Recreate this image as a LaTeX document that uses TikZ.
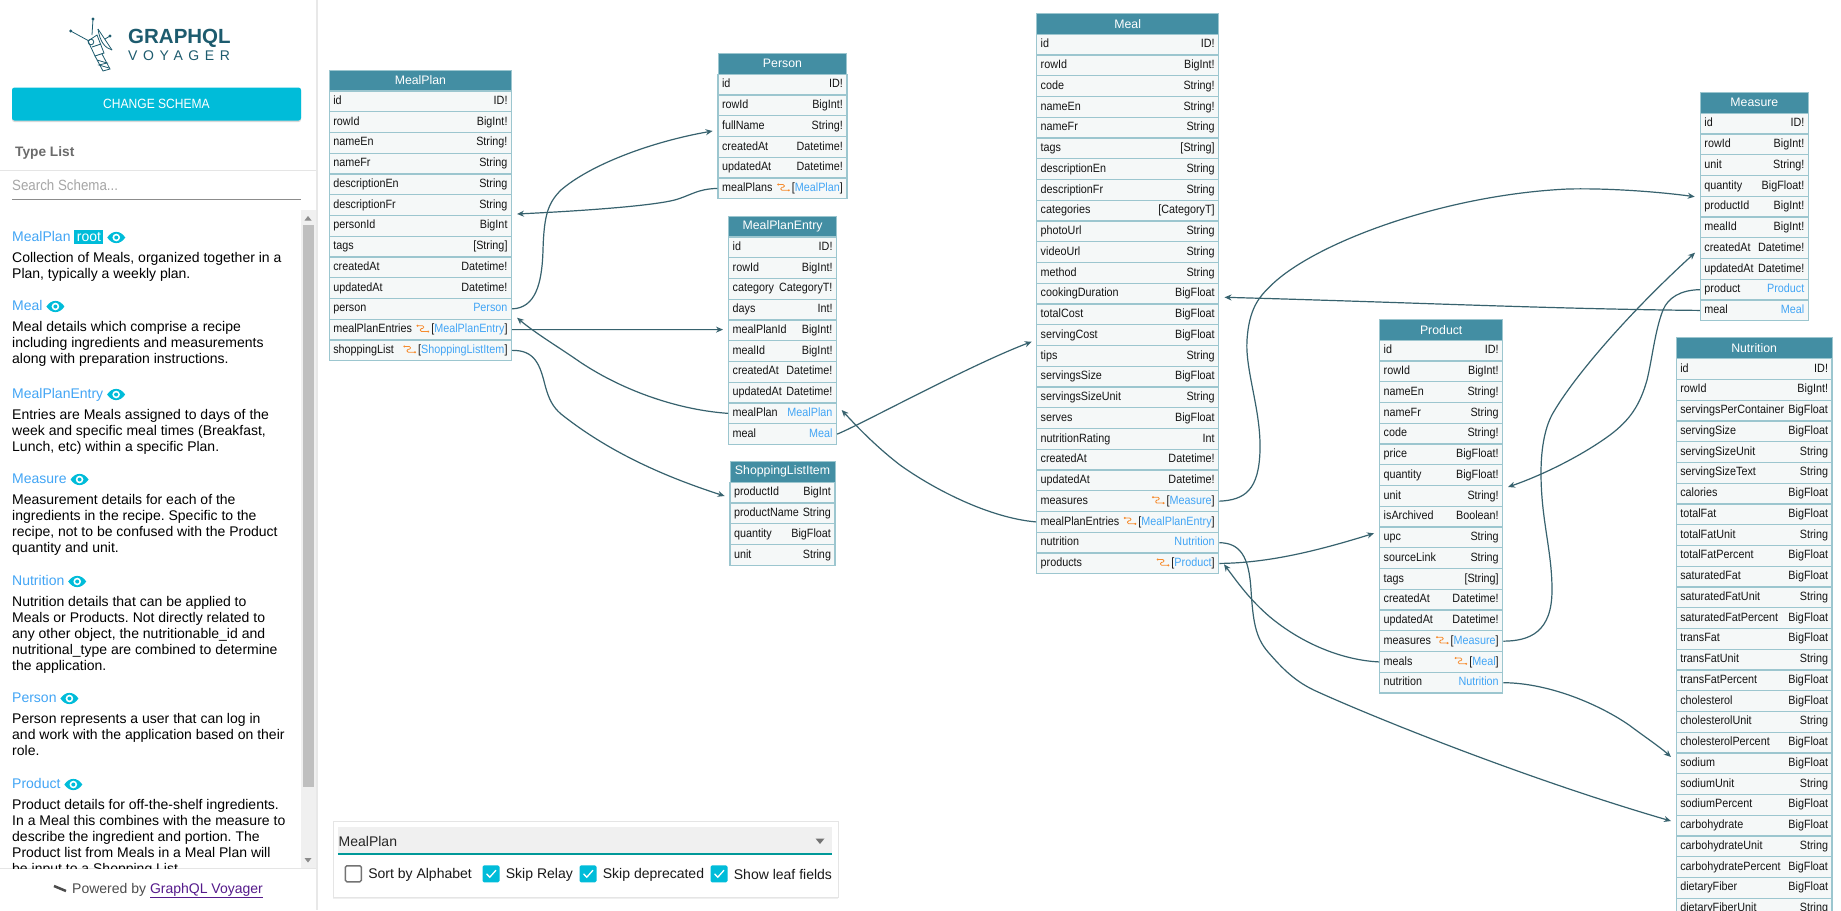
\documentclass[tikz,border=0pt]{standalone}
\usepackage{fontspec}
\setmainfont{Liberation Sans}
\newfontfamily\fieldfont[FakeStretch=0.9]{Liberation Sans}
\newfontfamily\spacedfont[LetterSpace=40]{Liberation Sans}
\usepackage{xcolor}
\usetikzlibrary{arrows.meta, positioning, shadows}

\definecolor{titlecol}{HTML}{438EA3}
\definecolor{rowcol}{HTML}{F5F8F8}
\definecolor{rowedge}{HTML}{9CC6CF}
\definecolor{edgecol}{HTML}{37626E}
\definecolor{linkblue}{HTML}{42A5F5}
\definecolor{relayorange}{HTML}{F58B2E}
\definecolor{btncyan}{HTML}{00BCD9}
\definecolor{logoteal}{HTML}{1D5B6E}
\setlength{\fboxsep}{2.4pt}
\frenchspacing

\newcommand{\lnk}[1]{\textcolor{linkblue}{#1}}
\newcommand{\relayicon}{\tikz[baseline=0pt, x=1pt, y=1pt]{
    \draw[relayorange, line width=0.8pt, rounded corners=1.2pt] (1,7) -- (7,7) -- (7,4.2) -- (3.5,4.2) -- (3.5,1.2) -- (11,1.2);
    \fill[relayorange] (0.8,7) circle (1.1pt) (11.4,1.2) circle (1.1pt);
}\,}
\newcommand{\eyeicon}{\tikz[baseline=-4pt, x=1pt, y=1pt]{
    \fill[btncyan] (-9,0) .. controls (-4,7.5) and (4,7.5) .. (9,0) .. controls (4,-7.5) and (-4,-7.5) .. (-9,0) -- cycle;
    \fill[white] (0,0) circle (3.8pt);
    \fill[btncyan] (0,0) circle (2pt);
}}

\tikzset{
    typetitle/.style={draw=rowedge, fill=titlecol, text=white, line width=1pt, minimum height=21pt, inner xsep=0pt, inner ysep=0pt,
        font=\fontsize{12.3}{14}\selectfont},
    fieldrow/.style={draw=rowedge, fill=rowcol, text=black!92, line width=1.2pt, text width=#1-8pt, inner xsep=4pt, inner ysep=0pt,
        minimum height=20.75pt, text height=8.6pt, text depth=2.4pt, font=\fieldfont\fontsize{12}{14}\selectfont},
    edgeline/.style={draw=edgecol, line width=1.2pt, -{Stealth[length=7pt, width=6pt]}},
    sidetitle/.style={anchor=west, inner sep=0pt, text=linkblue, font=\fontsize{14}{16}\selectfont},
    sidedesc/.style={anchor=north west, inner sep=0pt, align=left, text=black, font=\fontsize{14}{16}\selectfont},
    chkbox/.style={minimum size=17pt, inner sep=0pt, rounded corners=1.5pt},
    chklabel/.style={inner sep=0pt, text=black!90, font=\fontsize{14}{16}\selectfont},
    chkmark/.style={draw=white, line width=1.3pt}
}

\begin{document}
\begin{tikzpicture}[x=1pt, y=-1pt]
    \clip (0,0) rectangle (1841,910);
    \fill[white] (0,0) rectangle (1841,910);

    % Sidebar frame
    \fill[black!9] (316,0) rectangle (318,910);
    \draw[black!10, line width=1pt] (0,170.3) -- (316,170.3);
    \draw[black!10, line width=1pt] (0,868) -- (316,868);

    % Logo
    \begin{scope}[logoteal, line width=0.8pt]
        \draw (70.7,31) -- (89,41);
        \draw (93,19) -- (92,35);
        \fill (70.7,31) circle (1.6pt) (93,19) circle (1.6pt) (110,36) circle (1.6pt);
        \draw (88,41) -- (97,35) -- (104,53) -- (95,56) -- cycle;
        \draw (91,42) circle (2.8pt);
        \draw (92,47) -- (101,44);
        \draw (95,56) -- (103,71) -- (110,69) -- (102,54);
        \draw (97,60) -- (107,63) -- (99,65) -- (109,68);
        \draw (98,29) .. controls (100,42) and (105,48) .. (112,50);
        \draw (98,29) -- (112,50) (105,39) -- (110,36);
    \end{scope}
    \node[anchor=west, inner sep=0pt, text=logoteal, font=\bfseries\fontsize{20.5}{22}\selectfont] (logotop) at (128,38) {GRAPHQL};
    \node[anchor=west, inner sep=0pt, text=logoteal, font=\spacedfont\fontsize{14}{16}\selectfont] (logobot) at (128,56) {VOYAGER};

    % Button and search
    \node[fill=btncyan, rounded corners=2.5pt, minimum width=289pt, minimum height=33pt, inner sep=0pt, text=white,
        font=\fieldfont\fontsize{13.4}{16}\selectfont, drop shadow={shadow xshift=0pt, shadow yshift=-1.5pt, opacity=0.3}] (change) at (156.5,104) {CHANGE SCHEMA};
    \node[anchor=west, inner sep=0pt, text=black!58, font=\bfseries\fontsize{13.7}{16}\selectfont] (typelist) at (15,153) {Type List};
    \node[anchor=west, inner sep=0pt, text=black!35, font=\fieldfont\fontsize{14.8}{16}\selectfont] (search) at (12,185) {Search Schema...};
    \draw[black!45, line width=1pt] (12,199.3) -- (301,199.3);

    % Scrollbar
    \fill[black!6] (301,210) rectangle (316,868);
    \fill[black!25] (303,225) rectangle (314,787);
    \fill[black!45] (304.5,220.5) -- (311.5,220.5) -- (308,216) -- cycle;
    \fill[black!45] (304.5,858) -- (311.5,858) -- (308,862.5) -- cycle;

    % Type list
    \begin{scope}
        \clip (0,205) rectangle (301,868);
        \node[sidetitle] (item1) at (12,237.5) {MealPlan\ \colorbox{btncyan}{\textcolor{white}{root}}\ \eyeicon};
        \node[sidedesc] (desc1) at (12,252.5) {Collection of Meals, organized together in a\\Plan, typically a weekly plan.};
        \node[sidetitle] (item2) at (12,306.5) {Meal\ \eyeicon};
        \node[sidedesc] (desc2) at (12,321.5) {Meal details which comprise a recipe\\including ingredients and measurements\\along with preparation instructions.};
        \node[sidetitle] (item3) at (12,394.5) {MealPlanEntry\ \eyeicon};
        \node[sidedesc] (desc3) at (12,409.5) {Entries are Meals assigned to days of the\\week and specific meal times (Breakfast,\\Lunch, etc) within a specific Plan.};
        \node[sidetitle] (item4) at (12,479.5) {Measure\ \eyeicon};
        \node[sidedesc] (desc4) at (12,494.5) {Measurement details for each of the\\ingredients in the recipe. Specific to the\\recipe, not to be confused with the Product\\quantity and unit.};
        \node[sidetitle] (item5) at (12,581.5) {Nutrition\ \eyeicon};
        \node[sidedesc] (desc5) at (12,596.5) {Nutrition details that can be applied to\\Meals or Products. Not directly related to\\any other object, the nutritionable\_id and\\nutritional\_type are combined to determine\\the application.};
        \node[sidetitle] (item6) at (12,698.5) {Person\ \eyeicon};
        \node[sidedesc] (desc6) at (12,713.5) {Person represents a user that can log in\\and work with the application based on their\\role.};
        \node[sidetitle] (item7) at (12,784.5) {Product\ \eyeicon};
        \node[sidedesc] (desc7) at (12,799.5) {Product details for off-the-shelf ingredients.\\In a Meal this combines with the measure to\\describe the ingredient and portion. The\\Product list from Meals in a Meal Plan will\\be input to a Shopping List.};
    \end{scope}

    % Footer
    \draw[black!70, line width=2.5pt] (54,886) -- (66,891);
    \node[anchor=west, inner sep=0pt, text=black!70, font=\fontsize{14}{16}\selectfont] (powered) at (72,890.5) {Powered by \textcolor[HTML]{551A8B}{\underline{GraphQL Voyager}}};

    % MealPlan
    \node[typetitle, minimum width=182.2pt] (mealplan) at (420.4,80.5) {MealPlan};
    \foreach \i/\fname/\ftype in {1/id/ID!, 2/rowId/BigInt!, 3/nameEn/String!, 4/nameFr/String, 5/descriptionEn/String, 6/descriptionFr/String, 7/personId/BigInt,
        8/tags/[String], 9/createdAt/Datetime!, 10/updatedAt/Datetime!, 11/person/\lnk{Person},
        12/mealPlanEntries/{\relayicon[\lnk{MealPlanEntry}]}, 13/shoppingList/{\relayicon[\lnk{ShoppingListItem}]}} {
        \node[fieldrow=182.2pt] (mp\i) at (420.4,91+20.75*\i-10.375) {\fname\hfill\ftype};
    }

    % Person
    \node[typetitle, minimum width=128.9pt] (person) at (782.45,63.8) {Person};
    \foreach \i/\fname/\ftype in {1/id/ID!, 2/rowId/BigInt!, 3/fullName/String!, 4/createdAt/Datetime!, 5/updatedAt/Datetime!,
        6/mealPlans/{\relayicon[\lnk{MealPlan}]}} {
        \node[fieldrow=128.9pt] (per\i) at (782.45,74.3+20.75*\i-10.375) {\fname\hfill\ftype};
    }

    % MealPlanEntry
    \node[typetitle, minimum width=107.8pt] (entry) at (782.6,226.5) {MealPlanEntry};
    \foreach \i/\fname/\ftype in {1/id/ID!, 2/rowId/BigInt!, 3/category/CategoryT!, 4/days/Int!, 5/mealPlanId/BigInt!, 6/mealId/BigInt!,
        7/createdAt/Datetime!, 8/updatedAt/Datetime!, 9/mealPlan/\lnk{MealPlan}, 10/meal/\lnk{Meal}} {
        \node[fieldrow=107.8pt] (ent\i) at (782.6,237+20.75*\i-10.375) {\fname\hfill\ftype};
    }

    % ShoppingListItem
    \node[typetitle, minimum width=105pt] (shoplist) at (782.5,471.8) {ShoppingListItem};
    \foreach \i/\fname/\ftype in {1/productId/BigInt, 2/productName/String, 3/quantity/BigFloat, 4/unit/String} {
        \node[fieldrow=105pt] (sli\i) at (782.5,482.3+20.75*\i-10.375) {\fname\hfill\ftype};
    }

    % Meal
    \node[typetitle, minimum width=182pt] (meal) at (1127.7,23.8) {Meal};
    \foreach \i/\fname/\ftype in {1/id/ID!, 2/rowId/BigInt!, 3/code/String!, 4/nameEn/String!, 5/nameFr/String, 6/tags/[String], 7/descriptionEn/String,
        8/descriptionFr/String, 9/categories/[CategoryT], 10/photoUrl/String, 11/videoUrl/String, 12/method/String, 13/cookingDuration/BigFloat,
        14/totalCost/BigFloat, 15/servingCost/BigFloat, 16/tips/String, 17/servingsSize/BigFloat, 18/servingsSizeUnit/String, 19/serves/BigFloat,
        20/nutritionRating/Int, 21/createdAt/Datetime!, 22/updatedAt/Datetime!, 23/measures/{\relayicon[\lnk{Measure}]},
        24/mealPlanEntries/{\relayicon[\lnk{MealPlanEntry}]}, 25/nutrition/\lnk{Nutrition}, 26/products/{\relayicon[\lnk{Product}]}} {
        \node[fieldrow=182pt] (ml\i) at (1127.7,34.3+20.75*\i-10.375) {\fname\hfill\ftype};
    }

    % Product
    \node[typetitle, minimum width=123pt] (product) at (1441.2,329.8) {Product};
    \foreach \i/\fname/\ftype in {1/id/ID!, 2/rowId/BigInt!, 3/nameEn/String!, 4/nameFr/String, 5/code/String!, 6/price/BigFloat!, 7/quantity/BigFloat!,
        8/unit/String!, 9/isArchived/Boolean!, 10/upc/String, 11/sourceLink/String, 12/tags/[String], 13/createdAt/Datetime!, 14/updatedAt/Datetime!,
        15/measures/{\relayicon[\lnk{Measure}]}, 16/meals/{\relayicon[\lnk{Meal}]}, 17/nutrition/\lnk{Nutrition}} {
        \node[fieldrow=123pt] (pr\i) at (1441.2,340.3+20.75*\i-10.375) {\fname\hfill\ftype};
    }

    % Measure
    \node[typetitle, minimum width=107.9pt] (measure) at (1754.35,102.8) {Measure};
    \foreach \i/\fname/\ftype in {1/id/ID!, 2/rowId/BigInt!, 3/unit/String!, 4/quantity/BigFloat!, 5/productId/BigInt!, 6/mealId/BigInt!,
        7/createdAt/Datetime!, 8/updatedAt/Datetime!, 9/product/\lnk{Product}, 10/meal/\lnk{Meal}} {
        \node[fieldrow=107.9pt] (ms\i) at (1754.35,113.3+20.75*\i-10.375) {\fname\hfill\ftype};
    }

    % Nutrition
    \node[typetitle, minimum width=155.7pt] (nutrition) at (1754.15,348.2) {Nutrition};
    \foreach \i/\fname/\ftype in {1/id/ID!, 2/rowId/BigInt!, 3/servingsPerContainer/BigFloat, 4/servingSize/BigFloat, 5/servingSizeUnit/String,
        6/servingSizeText/String, 7/calories/BigFloat, 8/totalFat/BigFloat, 9/totalFatUnit/String, 10/totalFatPercent/BigFloat, 11/saturatedFat/BigFloat,
        12/saturatedFatUnit/String, 13/saturatedFatPercent/BigFloat, 14/transFat/BigFloat, 15/transFatUnit/String, 16/transFatPercent/BigFloat,
        17/cholesterol/BigFloat, 18/cholesterolUnit/String, 19/cholesterolPercent/BigFloat, 20/sodium/BigFloat, 21/sodiumUnit/String,
        22/sodiumPercent/BigFloat, 23/carbohydrate/BigFloat, 24/carbohydrateUnit/String, 25/carbohydratePercent/BigFloat, 26/dietaryFiber/BigFloat,
        27/dietaryFiberUnit/String} {
        \node[fieldrow=155.7pt] (nt\i) at (1754.15,358.7+20.75*\i-10.375) {\fname\hfill\ftype};
    }

    % Arrow tips
    \coordinate (tipPerson) at (712.6,131);
    \coordinate (tipPlanA) at (517,214);
    \coordinate (tipEntryA) at (723,329.6);
    \coordinate (tipShop) at (724.6,496);
    \coordinate (tipPlanB) at (517,317.7);
    \coordinate (tipMealA) at (1031.7,341.7);
    \coordinate (tipEntryB) at (841.7,410);
    \coordinate (tipMeasureA) at (1694.7,196.7);
    \coordinate (tipMealB) at (1224.5,297.3);
    \coordinate (tipMeasureB) at (1695,252.7);
    \coordinate (tipProductA) at (1508,487);
    \coordinate (tipMealC) at (1224,564.3);
    \coordinate (tipProductB) at (1374,533.3);
    \coordinate (tipNutA) at (1671,821);
    \coordinate (tipNutB) at (1671,757);

    % Connections
    \draw[edgeline] (mp11.east) .. controls (535,308) and (542,285) .. (543,250) .. controls (544,215) and (548,203) .. (561,190) .. controls (590,165) and (650,142) .. (tipPerson);
    \draw[edgeline] (per6.west) .. controls (697,189) and (692,195) .. (674.7,200) .. controls (655,205) and (600,210) .. (tipPlanA);
    \draw[edgeline] (mp12.east) -- (tipEntryA);
    \draw[edgeline] (mp13.east) .. controls (535,350) and (540,365) .. (545,385) .. controls (549,400) and (553,407) .. (561,414) .. controls (600,445) and (650,472) .. (tipShop);
    \draw[edgeline] (ent9.west) .. controls (680,410) and (625,392) .. (580,362) .. controls (560,348) and (535,333) .. (tipPlanB);
    \draw[edgeline] (ent10.east) .. controls (860,425) and (970,365) .. (tipMealA);
    \draw[edgeline] (ml24.west) .. controls (990,518) and (935,490) .. (900,465) .. controls (878,448) and (860,430) .. (tipEntryB);
    \draw[edgeline] (ml23.east) .. controls (1245,500) and (1259,490) .. (1260,450) .. controls (1261,410) and (1245,370) .. (1247,340) .. controls (1249,310) and (1258,298) .. (1269.5,287) .. controls (1310,245) and (1440,195) .. (1568,189) .. controls (1610,188) and (1660,192) .. (tipMeasureA);
    \draw[edgeline] (ms10.west) .. controls (1550,309) and (1400,302) .. (tipMealB);
    \draw[edgeline] (pr15.east) .. controls (1530,641) and (1552,632) .. (1552,590) .. controls (1552,550) and (1541,520) .. (1541,473) .. controls (1541,445) and (1546,425) .. (1553,413) .. controls (1575,375) and (1630,312) .. (tipMeasureB);
    \draw[edgeline] (ms9.west) .. controls (1680,290) and (1668,298) .. (1663,310) .. controls (1655,330) and (1652,360) .. (1647,380) .. controls (1640,405) and (1630,420) .. (1610,435) .. controls (1580,457) and (1540,476) .. (tipProductA);
    \draw[edgeline] (pr16.west) .. controls (1340,660) and (1300,642) .. (1270,617) .. controls (1250,600) and (1238,583) .. (tipMealC);
    \draw[edgeline] (ml26.east) .. controls (1270,563) and (1320,550) .. (tipProductB);
    \draw[edgeline] (ml25.east) .. controls (1240,543) and (1249,556) .. (1251,590) .. controls (1253,620) and (1255,637) .. (1268,652) .. controls (1282,668) and (1295,682) .. (1318,692) .. controls (1380,720) and (1530,780) .. (tipNutA);
    \draw[edgeline] (pr17.east) .. controls (1550,683) and (1600,705) .. (1629,725) .. controls (1645,737) and (1660,747) .. (tipNutB);

    % Options panel
    \node[draw=black!10, fill=white, minimum width=505pt, minimum height=75.3pt, inner sep=0pt, drop shadow={shadow xshift=0pt, shadow yshift=-2pt, opacity=0.12}] (panel) at (585.2,859.3) {};
    \node[fill=black!6, minimum width=494pt, minimum height=27pt, inner sep=0pt] (select) at (585,840.5) {};
    \draw[draw=teal!80!cyan, line width=1.6pt] (select.south west) -- (select.south east);
    \node[anchor=west, inner sep=0pt, text=black!85, font=\fontsize{14}{16}\selectfont] (selected) at (338.5,841) {MealPlan};
    \fill[black!55] (815.5,838.5) -- (824.5,838.5) -- (820,844) -- cycle;

    \node[chkbox, draw=black!55, line width=1.4pt, minimum size=16pt] (chk1) at (353.4,873.8) {};
    \node[chkbox, fill=btncyan] (chk2) at (491,873.8) {};
    \node[chkbox, fill=btncyan] (chk3) at (588,873.8) {};
    \node[chkbox, fill=btncyan] (chk4) at (719,873.8) {};
    \foreach \i in {2,3,4} {
        \draw[chkmark] ([shift={(-4.5,0)}]chk\i.center) -- ([shift={(-1.2,3.4)}]chk\i.center) -- ([shift={(5,-3.6)}]chk\i.center);
    }
    \node[chklabel, right=6pt of chk1, yshift=-1pt] (lab1) {Sort by Alphabet};
    \node[chklabel, right=6pt of chk2, yshift=-1pt] (lab2) {Skip Relay};
    \node[chklabel, right=6pt of chk3, yshift=-1pt] (lab3) {Skip deprecated};
    \node[chklabel, right=6pt of chk4, yshift=-1pt] (lab4) {Show leaf fields};
\end{tikzpicture}
\end{document}
